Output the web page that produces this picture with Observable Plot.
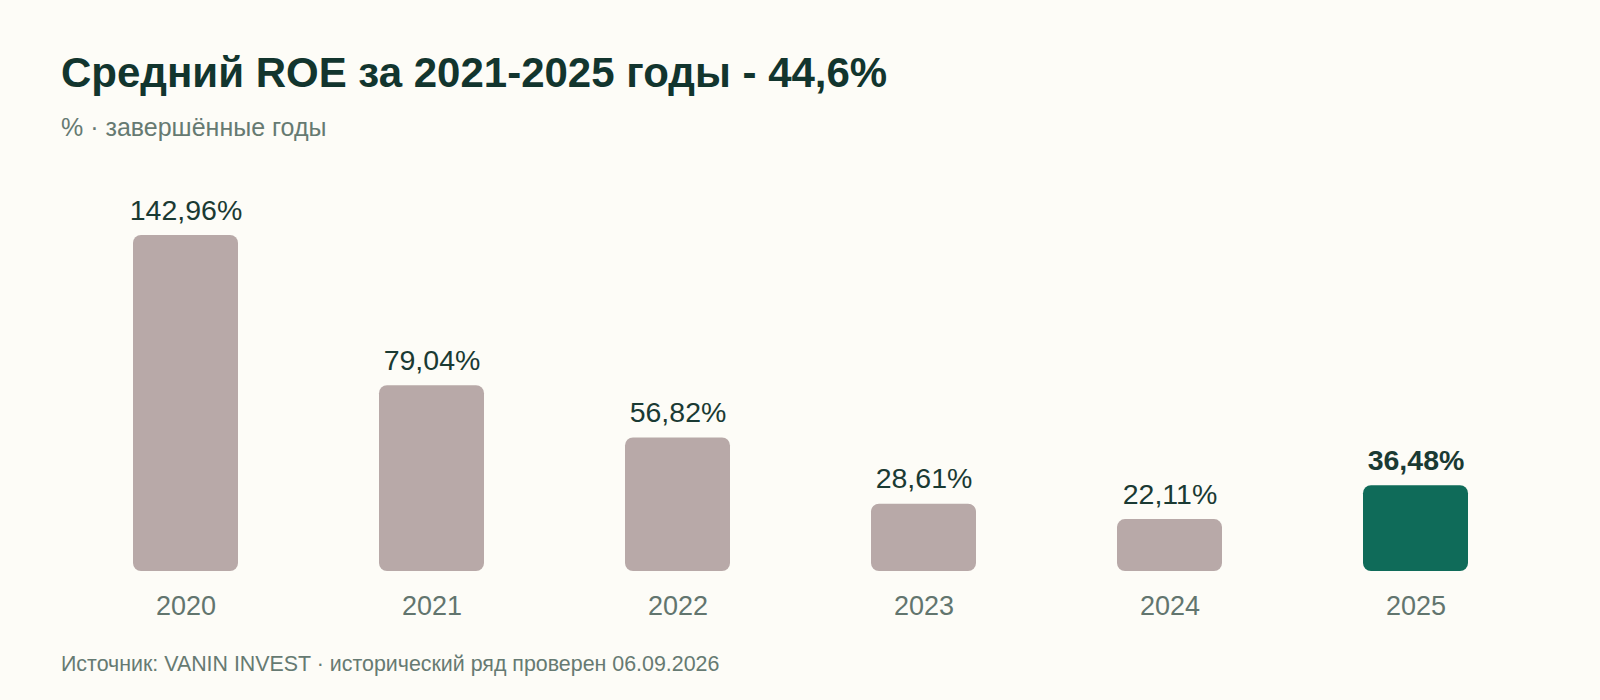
<!DOCTYPE html>
<html>
<head>
<meta charset="utf-8">
<script src="https://cdn.jsdelivr.net/npm/d3@7"></script>
<script src="https://cdn.jsdelivr.net/npm/@observablehq/plot@0.6"></script>
<style>
  html, body { margin: 0; padding: 0; background: #fdfcf7; }
  body { width: 1600px; height: 700px; position: relative; overflow: hidden;
         font-family: "Liberation Sans", Arial, Helvetica, sans-serif; }
  .t { position: absolute; left: 61px; line-height: 1; white-space: nowrap; }
  #title { top: 51.5px; font-size: 42px; font-weight: bold; color: #12352e; }
  #subtitle { top: 114.8px; font-size: 25px; color: #667a72; }
  #footer { top: 653.9px; font-size: 21.4px; color: #667a72; }
  #chart { position: absolute; left: 0; top: 150px; }
</style>
</head>
<body>
<div id="title" class="t">Средний ROE за 2021-2025 годы - 44,6%</div>
<div id="subtitle" class="t">% · завершённые годы</div>
<div id="chart"></div>
<div id="footer" class="t">Источник: VANIN INVEST · исторический ряд проверен 06.09.2026</div>
<script>
const years = ["2020", "2021", "2022", "2023", "2024", "2025"];
const roe = [142.96, 79.04, 56.82, 28.61, 22.11, 36.48];
const highlightYear = "2025";

const data = years.map((year, i) => ({
  year,
  value: roe[i],
  label: roe[i].toFixed(2).replace(".", ",") + "%",
  hi: year === highlightYear
}));

const chart = Plot.plot({
  width: 1600,
  height: 490,
  marginLeft: 0,
  marginRight: 0,
  marginTop: 85,
  marginBottom: 69,
  style: { background: "transparent", fontFamily: "Liberation Sans, Arial, sans-serif" },
  x: { domain: years, paddingInner: 0.5746, paddingOuter: 0.53, label: null },
  y: { domain: [0, 142.96], axis: null },
  marks: [
    Plot.barY(data, {
      x: "year", y: "value", rx: 8,
      fill: d => d.hi ? "#0f6b59" : "#b8a9a8"
    }),
    Plot.text(data.filter(d => !d.hi), {
      x: "year", y: "value", text: "label",
      lineAnchor: "bottom", dy: -16, fontSize: 28.5, fill: "#1a3a33"
    }),
    Plot.text(data.filter(d => d.hi), {
      x: "year", y: "value", text: "label",
      lineAnchor: "bottom", dy: -16, fontSize: 28.5, fontWeight: "bold", fill: "#1a3a33"
    }),
    Plot.axisX({ tickSize: 0, tickPadding: 24, fontSize: 27, color: "#62756e", label: null })
  ]
});
document.getElementById("chart").appendChild(chart);
</script>
</body>
</html>
